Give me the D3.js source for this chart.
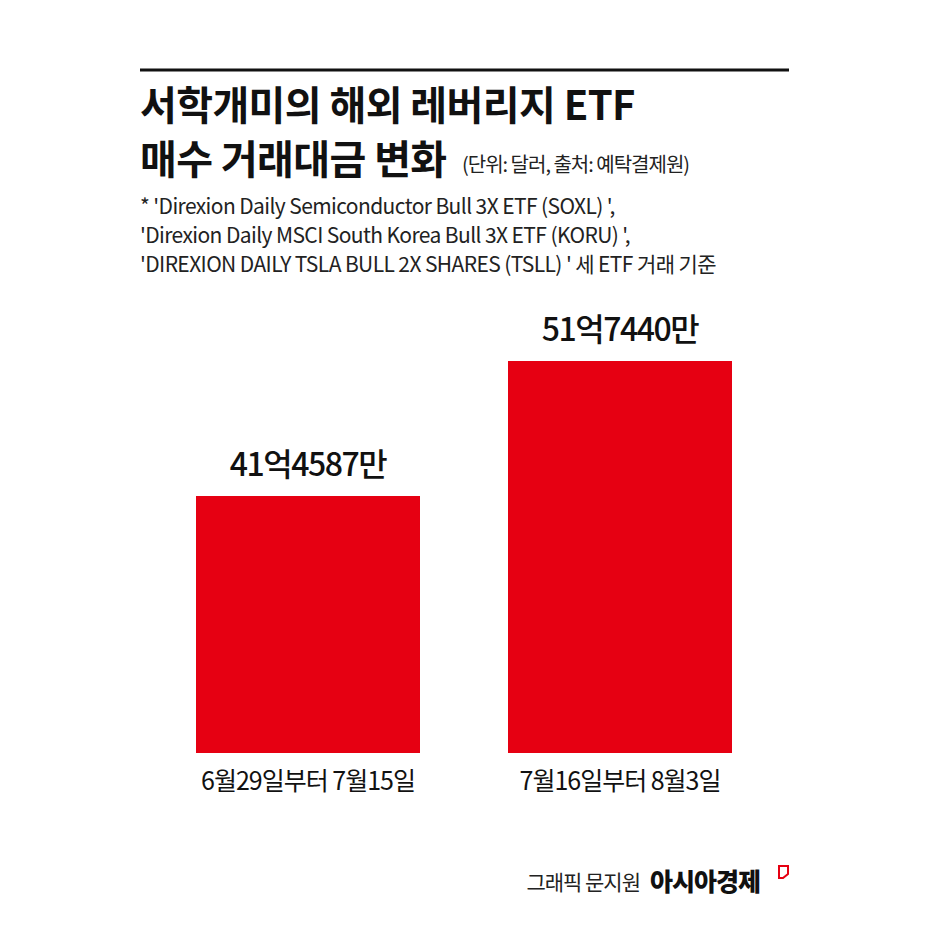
<!DOCTYPE html>
<html><head><meta charset="utf-8">
<script src="https://cdn.jsdelivr.net/npm/d3@7"></script>
<style>body{margin:0;background:#fff}text{font-family:"Noto Sans CJK KR","Noto Sans",sans-serif}</style>
</head><body><svg id="c" width="929" height="928"></svg>
<script>
const categories = ["6월29일부터 7월15일", "7월16일부터 8월3일"];
const values = [41.4587, 51.744]; // 억 달러
const valueLabels = ["41억4587만", "51억7440만"];
const titleLines = ["서학개미의 해외 레버리지 ETF", "매수 거래대금 변화"];
const noteLines = [
  "* 'Direxion Daily Semiconductor Bull 3X ETF (SOXL) ',",
  "'Direxion Daily MSCI South Korea Bull 3X ETF (KORU) ',",
  "'DIREXION DAILY TSLA BULL 2X SHARES (TSLL) ' 세 ETF 거래 기준"
];

const svg = d3.select("#c");
svg.append("line").attr("x1", 140).attr("x2", 789).attr("y1", 70).attr("y2", 70)
  .attr("stroke", "#111").attr("stroke-width", 3);

svg.selectAll(".title").data(titleLines).join("text")
  .attr("x", 140).attr("y", (d, i) => 120 + i * 54)
  .attr("font-size", 40).attr("font-weight", 700).attr("letter-spacing", -0.6).attr("fill", "#111")
  .text(d => d);
svg.append("text").attr("x", 462).attr("y", 172).attr("font-size", 20).attr("letter-spacing", -1)
  .attr("fill", "#222").text("(단위: 달러, 출처: 예탁결제원)");

svg.selectAll(".note").data(noteLines).join("text")
  .attr("x", 140).attr("y", (d, i) => 214 + i * 29)
  .attr("font-size", 21).attr("letter-spacing", -0.6).attr("fill", "#222").text(d => d);

const x = d3.scaleBand().domain(categories).range([196, 732]).paddingInner(88 / 312).paddingOuter(0);
const y = d3.scaleLinear().domain([21.88, 51.744]).range([753, 361]);

svg.selectAll(".bar").data(values).join("rect")
  .attr("x", (d, i) => x(categories[i])).attr("width", x.bandwidth())
  .attr("y", d => y(d)).attr("height", d => 753 - y(d)).attr("fill", "#e60012");

svg.selectAll(".vl").data(values).join("text")
  .attr("x", (d, i) => x(categories[i]) + x.bandwidth() / 2).attr("y", d => y(d) - 20)
  .attr("text-anchor", "middle").attr("font-size", 32).attr("font-weight", 500).attr("letter-spacing", -1.5)
  .attr("fill", "#111").text((d, i) => valueLabels[i]);

svg.selectAll(".cl").data(categories).join("text")
  .attr("x", d => x(d) + x.bandwidth() / 2).attr("y", 790)
  .attr("text-anchor", "middle").attr("font-size", 25).attr("letter-spacing", -1)
  .attr("fill", "#111").text(d => d);

svg.append("text").attr("x", 640).attr("y", 890).attr("text-anchor", "end").attr("font-size", 21)
  .attr("letter-spacing", -1).attr("fill", "#222").text("그래픽 문지원");
svg.append("text").attr("x", 650).attr("y", 891).attr("font-size", 25).attr("font-weight", 900)
  .attr("letter-spacing", -1).attr("fill", "#111").text("아시아경제");
svg.append("path").attr("d", "M779,866 h9 v8 l-5,4 h-4 z").attr("fill", "none")
  .attr("stroke", "#e60012").attr("stroke-width", 2);
</script></body></html>
